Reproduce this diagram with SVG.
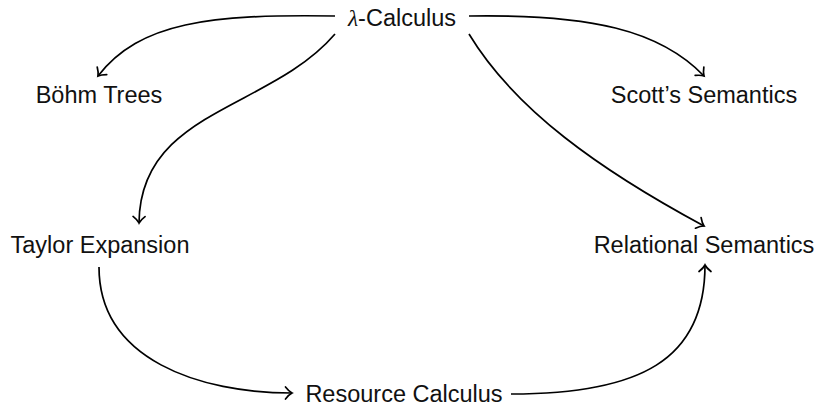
<svg xmlns="http://www.w3.org/2000/svg" width="819" height="406" viewBox="0 0 819 406">
<defs>
<style>
.lbl{font-family:"Liberation Sans",Arial,sans-serif;font-size:23.5px;fill:#111;text-anchor:middle}
.lam{font-family:"Liberation Serif","Times New Roman",serif;font-style:italic}
.edge{fill:none;stroke:#000;stroke-width:1.7}
</style>
<marker id="to" markerUnits="userSpaceOnUse" markerWidth="16" markerHeight="16" viewBox="-10 -8 12 16" refX="0" refY="0" orient="auto">
<path d="M -6.5 -6 Q -3 -1.5 0 0 Q -3 1.5 -6.5 6" fill="none" stroke="#000" stroke-width="1.7" stroke-linecap="round"/>
</marker>
</defs>
<rect width="819" height="406" fill="#fff"/>
<g id="lambda"><text class="lbl" x="402" y="26"><tspan class="lam">λ</tspan>-Calculus</text></g>
<g id="bohm"><text class="lbl" x="99" y="103">Böhm Trees</text></g>
<g id="scott"><text class="lbl" x="704" y="103">Scott’s Semantics</text></g>
<g id="taylor"><text class="lbl" x="100" y="253">Taylor Expansion</text></g>
<g id="relational"><text class="lbl" x="704" y="253">Relational Semantics</text></g>
<g id="resource"><text class="lbl" x="404" y="402">Resource Calculus</text></g>
<g id="connectors">
<path class="edge" marker-end="url(#to)" d="M 335 16 C 210 14, 140 22, 98 76"/>
<path class="edge" marker-end="url(#to)" d="M 469 16 C 590 14, 660 30, 704 76"/>
<path class="edge" marker-end="url(#to)" d="M 335 34 C 270 110, 140 110, 139 223"/>
<path class="edge" marker-end="url(#to)" d="M 469 34 C 515 110, 600 170, 704 226"/>
<path class="edge" marker-end="url(#to)" d="M 99 267 C 99 360, 200 393, 292 393"/>
<path class="edge" marker-end="url(#to)" d="M 511 394 C 640 394, 705 360, 705 265"/>
</g>
</svg>
